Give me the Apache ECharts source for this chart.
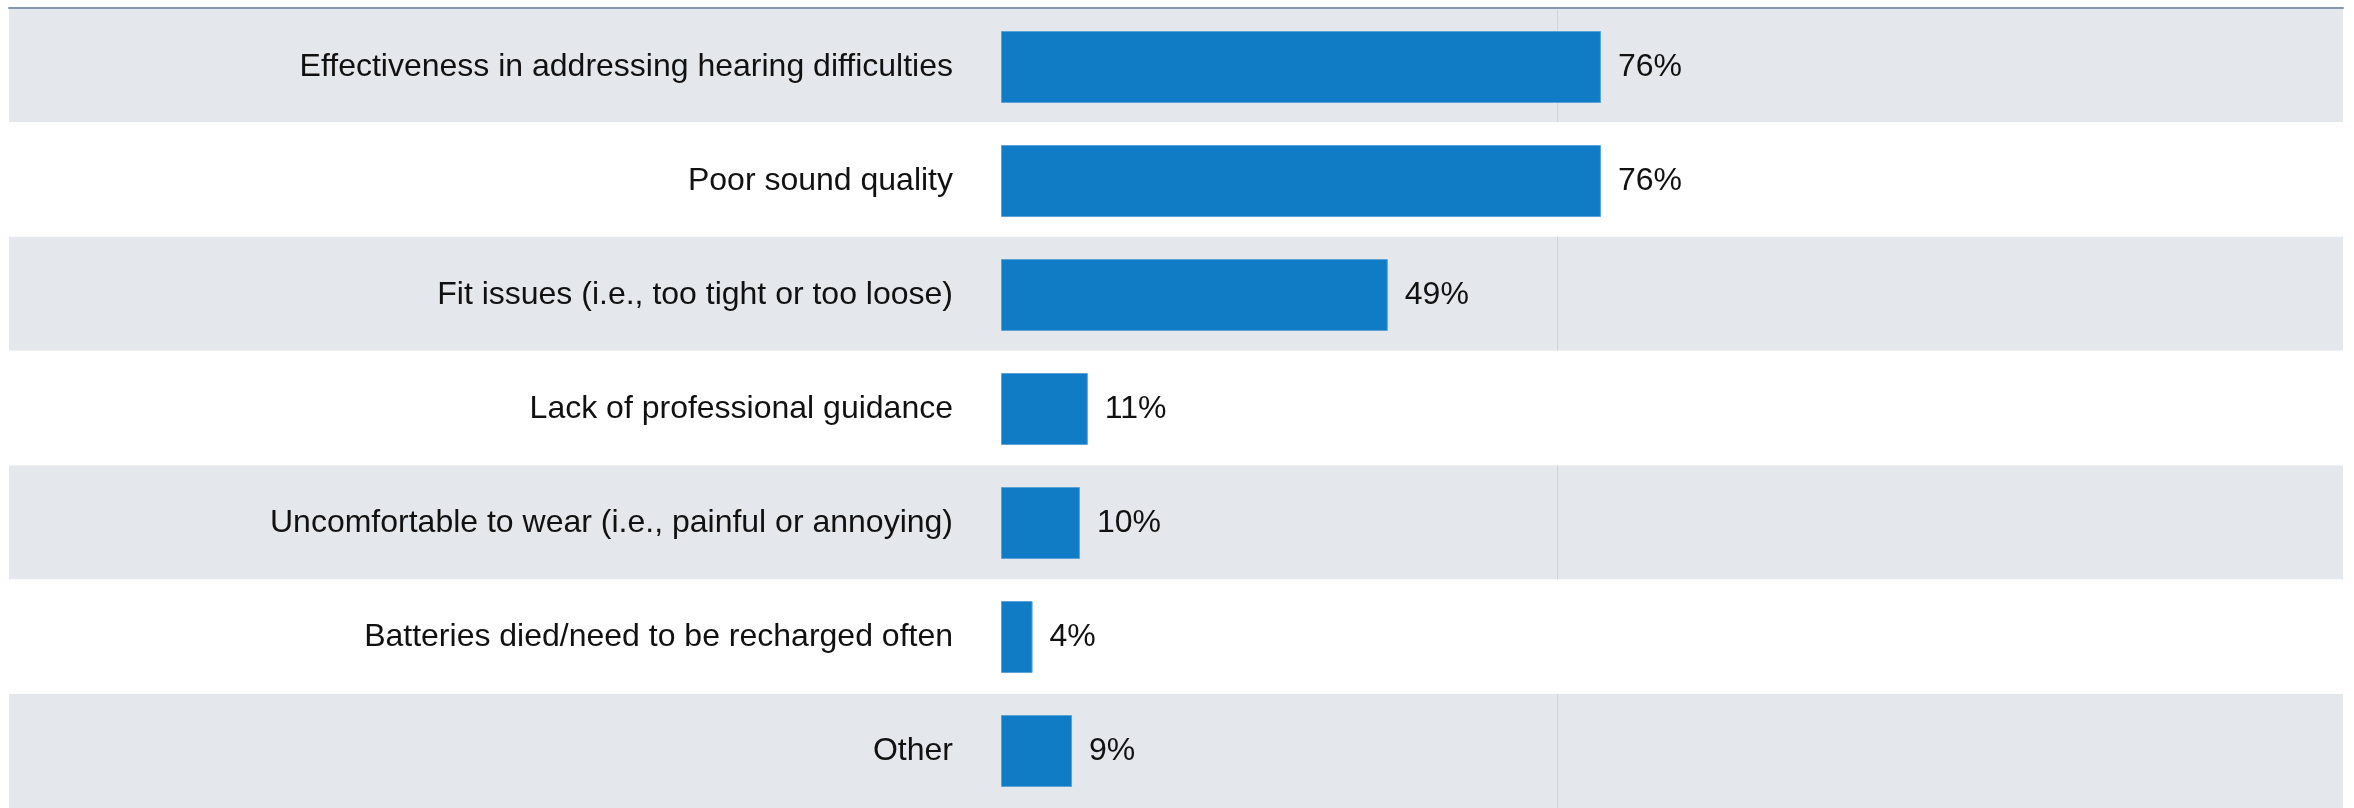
<!DOCTYPE html>
<html>
<head>
<meta charset="utf-8">
<title>Reasons for returning hearing aids</title>
<script src="https://cdn.jsdelivr.net/npm/echarts@6/dist/echarts.min.js"></script>
<style>
  html, body { margin: 0; padding: 0; background: #ffffff; }
  #chart { width: 2354px; height: 808px; }
</style>
</head>
<body>
<div id="chart"></div>
<script>
// Reasons and share of respondents (%)
const categories = [
  'Effectiveness in addressing hearing difficulties',
  'Poor sound quality',
  'Fit issues (i.e., too tight or too loose)',
  'Lack of professional guidance',
  'Uncomfortable to wear (i.e., painful or annoying)',
  'Batteries died/need to be recharged often',
  'Other'
];
const values = [76, 76, 49, 11, 10, 4, 9];

// Value axis range and the step of its single reference line
const axisMax = 170;
const axisStep = 70.5;

// Alternating row bands: shaded rows sit under the reference line, plain rows over it
const shadedRows = categories.map((c, i) => (i % 2 === 0 ? 1 : '-'));
const plainRows = categories.map((c, i) => (i % 2 === 1 ? 1 : '-'));

const FONT = '"Liberation Sans", Arial, Helvetica, sans-serif';

const chart = echarts.init(document.getElementById('chart'));
chart.setOption({
  animation: false,
  backgroundColor: '#ffffff',
  grid: [
    { left: 9, right: 11, top: 8, bottom: 0, containLabel: false },
    { left: 1001, right: 11, top: 10, height: 800, containLabel: false }
  ],
  xAxis: [
    {
      gridIndex: 0, type: 'value', min: 0, max: 1, position: 'top', z: 6,
      axisLine: { show: true, onZero: false, lineStyle: { color: '#8796ad', width: 2 } },
      axisTick: { show: false }, axisLabel: { show: false }, splitLine: { show: false }
    },
    {
      gridIndex: 1, type: 'value', min: 0, max: axisMax, interval: axisStep, z: 2,
      axisLine: { show: false }, axisTick: { show: false }, axisLabel: { show: false },
      splitLine: {
        show: true,
        lineStyle: { color: ['rgba(0,0,0,0)', '#d0d4da', 'rgba(0,0,0,0)', 'rgba(0,0,0,0)'], width: 1 }
      }
    }
  ],
  yAxis: [
    {
      gridIndex: 0, type: 'category', data: categories, inverse: true,
      axisLine: { show: false }, axisTick: { show: false }, axisLabel: { show: false },
      splitLine: { show: false }
    },
    {
      gridIndex: 1, type: 'category', data: categories, inverse: true, z: 5,
      axisLine: { show: false }, axisTick: { show: false }, splitLine: { show: false },
      axisLabel: {
        show: true, margin: 48, color: '#111111',
        fontFamily: FONT, fontSize: 32, align: 'right'
      }
    }
  ],
  series: [
    {
      name: 'shaded', type: 'bar', xAxisIndex: 0, yAxisIndex: 0, z: 1,
      data: shadedRows, barWidth: '100%', barGap: '-100%', silent: true,
      itemStyle: { color: '#e4e7ec' }
    },
    {
      name: 'plain', type: 'bar', xAxisIndex: 0, yAxisIndex: 0, z: 3,
      data: plainRows, barWidth: '100%', barGap: '-100%', silent: true,
      itemStyle: { color: '#ffffff' }
    },
    {
      name: 'Share', type: 'bar', xAxisIndex: 1, yAxisIndex: 1, z: 4,
      data: values, barWidth: 72,
      itemStyle: { color: '#117cc6', borderColor: '#5aa2d8', borderWidth: 1 },
      label: {
        show: true, position: 'right', distance: 17,
        formatter: p => p.value + '%',
        color: '#111111', fontFamily: FONT, fontSize: 32
      }
    }
  ]
});
</script>
</body>
</html>
